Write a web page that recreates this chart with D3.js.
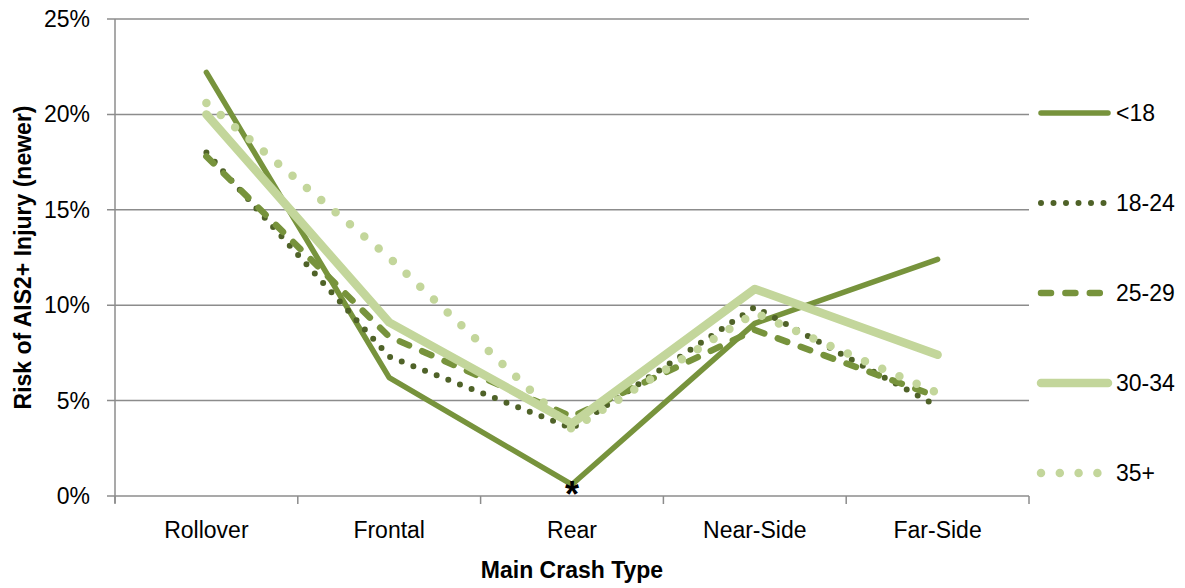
<!DOCTYPE html>
<html><head><meta charset="utf-8">
<script src="https://cdn.jsdelivr.net/npm/d3@7"></script>
<style>
body{margin:0;background:#fff;}
text{font-family:"Liberation Sans",Arial,sans-serif;fill:#000;}
</style></head>
<body><svg id="c" width="1185" height="588"></svg>
<script>
const categories = ["Rollover","Frontal","Rear","Near-Side","Far-Side"];
const seriesNames = ["<18","18-24","25-29","30-34","35+"];
const lt18 = [22.2, 6.2, 0.6, 9.05, 12.4];
const a18_24 = [18.0, 7.3, 3.55, 9.9, 4.7];
const a25_29 = [17.8, 8.35, 4.15, 8.7, 5.2];
const a30_34 = [20.0, 9.1, 3.8, 10.85, 7.4];
const a35p = [20.6, 12.5, 3.5, 9.6, 5.4];
const yTicks = [0, 5, 10, 15, 20, 25];

const series = [
  {name: seriesNames[0], values: lt18, color: "#77933C", width: 5.5, dash: null, cap: "round"},
  {name: seriesNames[1], values: a18_24, color: "#4F6228", width: 6, dash: "0,12.5", cap: "round"},
  {name: seriesNames[2], values: a25_29, color: "#77933C", width: 6.5, dash: "10,14.4", cap: "round"},
  {name: seriesNames[3], values: a30_34, color: "#C3D69B", width: 8.5, dash: null, cap: "round"},
  {name: seriesNames[4], values: a35p, color: "#C3D69B", width: 8.5, dash: "0,18.8", cap: "round"}
];

const svg = d3.select("#c");
const L = 115, R = 1029, T = 19, B = 496;
const x = d3.scaleBand().domain(categories).range([L, R]);
const y = d3.scaleLinear().domain([0, 25]).range([B, T]);
const grid = "#8c8c8c";

// gridlines
svg.append("g").selectAll("line").data(yTicks).join("line")
  .attr("x1", L - 8).attr("x2", R).attr("y1", d => y(d)).attr("y2", d => y(d))
  .attr("stroke", grid).attr("stroke-width", 1.5);

// y axis line
svg.append("line").attr("x1", L).attr("x2", L).attr("y1", T).attr("y2", B + 7)
  .attr("stroke", grid).attr("stroke-width", 1.5);

// x ticks
const bounds = categories.map(c => x(c)).concat([R]);
svg.append("g").selectAll("line").data(bounds).join("line")
  .attr("x1", d => d).attr("x2", d => d).attr("y1", B).attr("y2", B + 8)
  .attr("stroke", grid).attr("stroke-width", 1.5);

// y tick labels
svg.append("g").selectAll("text").data(yTicks).join("text")
  .attr("x", 90).attr("y", d => y(d)).attr("dy", "0.35em")
  .attr("text-anchor", "end").attr("font-size", 23)
  .text(d => d + "%");

// x labels
svg.append("g").selectAll("text").data(categories).join("text")
  .attr("x", d => x(d) + x.bandwidth() / 2).attr("y", 538)
  .attr("text-anchor", "middle").attr("font-size", 23)
  .text(d => d);

// axis titles
svg.append("text").attr("x", (L + R) / 2).attr("y", 578)
  .attr("text-anchor", "middle").attr("font-size", 23).attr("font-weight", "bold")
  .text("Main Crash Type");
svg.append("text").attr("transform", "translate(31," + ((T + B) / 2) + ") rotate(-90)")
  .attr("text-anchor", "middle").attr("font-size", 23).attr("font-weight", "bold")
  .text("Risk of AIS2+ Injury (newer)");

// lines
const line = d3.line().x((d, i) => x(categories[i]) + x.bandwidth() / 2).y(d => y(d));
series.forEach(s => {
  svg.append("path").datum(s.values).attr("d", line)
    .attr("fill", "none").attr("stroke", s.color).attr("stroke-width", s.width)
    .attr("stroke-linecap", s.cap).attr("stroke-linejoin", "round")
    .attr("stroke-dasharray", s.dash);
});

// asterisk
svg.append("text").attr("x", x("Rear") + x.bandwidth() / 2).attr("y", 507)
  .attr("text-anchor", "middle").attr("font-size", 36).attr("font-weight", "bold").text("*");

// legend
const lg = svg.append("g");
series.forEach((s, i) => {
  const ly = 113 + i * 90;
  lg.append("line").attr("x1", 1041).attr("x2", 1108).attr("y1", ly).attr("y2", ly)
    .attr("stroke", s.color).attr("stroke-width", s.width)
    .attr("stroke-linecap", s.cap).attr("stroke-dasharray", s.dash);
  lg.append("text").attr("x", 1116).attr("y", ly).attr("dy", "0.35em")
    .attr("font-size", 23).text(s.name);
});
</script></body></html>
